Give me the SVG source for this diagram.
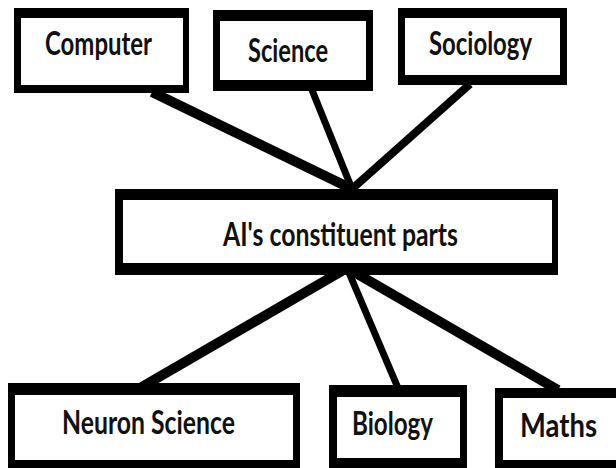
<svg xmlns="http://www.w3.org/2000/svg" width="616" height="468" viewBox="0 0 616 468">
<style>
.frame{fill:#000}
.inner{fill:#fff}
.lbl{font-family:Lato,"Open Sans","Liberation Sans",sans-serif;font-weight:bold;font-size:32px;fill:#111}
.conn{stroke:#000;stroke-linecap:butt;fill:none}
</style>
<rect width="616" height="468" fill="#fff"/>
<g id="connectors">
<line class="conn" x1="152" y1="92" x2="352" y2="189" stroke-width="10"/>
<line class="conn" x1="312" y1="90" x2="352" y2="189" stroke-width="7"/>
<line class="conn" x1="470" y1="84" x2="352" y2="189" stroke-width="8"/>
<line class="conn" x1="347" y1="268" x2="140" y2="388" stroke-width="10"/>
<line class="conn" x1="347" y1="268" x2="398" y2="388" stroke-width="7"/>
<line class="conn" x1="347" y1="268" x2="558" y2="390" stroke-width="10"/>
</g>
<g id="computer">
<rect class="frame" x="14" y="8" width="175" height="85"/>
<rect class="inner" x="21" y="18" width="162" height="67"/>
<text class="lbl" x="45" y="55" textLength="107" lengthAdjust="spacingAndGlyphs">Computer</text>
</g>
<g id="science">
<rect class="frame" x="213" y="10" width="160" height="81"/>
<rect class="inner" x="220" y="21" width="146" height="59"/>
<text class="lbl" x="248" y="62" textLength="80" lengthAdjust="spacingAndGlyphs">Science</text>
</g>
<g id="sociology">
<rect class="frame" x="398" y="8" width="169" height="77"/>
<rect class="inner" x="405" y="18" width="155" height="57"/>
<text class="lbl" x="429" y="55" textLength="103" lengthAdjust="spacingAndGlyphs">Sociology</text>
</g>
<g id="ai-parts">
<rect class="frame" x="115" y="189" width="443" height="86"/>
<rect class="inner" x="123" y="200" width="429" height="63"/>
<text class="lbl" x="223" y="246" textLength="235" lengthAdjust="spacingAndGlyphs">AI's constituent parts</text>
</g>
<g id="neuron-science">
<rect class="frame" x="8" y="383" width="292" height="90"/>
<rect class="inner" x="15" y="395" width="278" height="65"/>
<text class="lbl" x="62" y="434" textLength="173" lengthAdjust="spacingAndGlyphs">Neuron Science</text>
</g>
<g id="biology">
<rect class="frame" x="329" y="385" width="138" height="88"/>
<rect class="inner" x="337" y="397" width="123" height="61"/>
<text class="lbl" x="352" y="435" textLength="81" lengthAdjust="spacingAndGlyphs">Biology</text>
</g>
<g id="maths">
<rect class="frame" x="495" y="388" width="135" height="85"/>
<rect class="inner" x="503" y="398" width="125" height="62"/>
<text class="lbl" x="520" y="437" textLength="77" lengthAdjust="spacingAndGlyphs">Maths</text>
</g>
</svg>
